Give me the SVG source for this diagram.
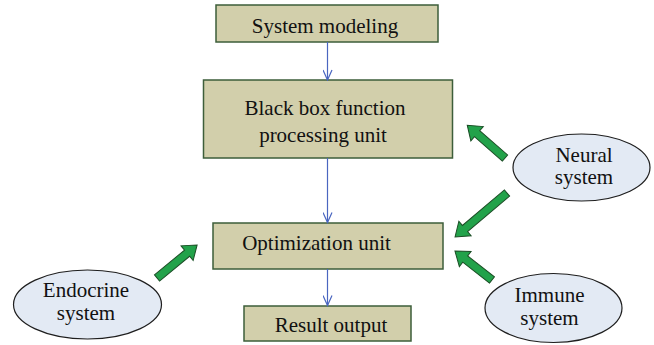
<svg xmlns="http://www.w3.org/2000/svg" width="654" height="345" viewBox="0 0 654 345">
  <style>
    .box { fill: #d2cfab; stroke: #3d5e3a; stroke-width: 1.5; }
    .oval { fill: #e3eaf4; stroke: #1e1e1e; stroke-width: 1.2; }
    .lbl { font-family: 'Liberation Serif', 'Times New Roman', serif; font-size: 21px; fill: #111; text-anchor: middle; }
    .flow { stroke: #4a66c0; stroke-width: 1.2; fill: none; marker-end: url(#vhead); }
    .push { fill: #22a24a; stroke: #1b4d25; stroke-width: 1; }
  </style>
  <defs>
    <marker id="vhead" viewBox="0 0 12 10" refX="11" refY="5" markerWidth="12" markerHeight="10" markerUnits="userSpaceOnUse" orient="auto">
      <path d="M1,0.5 L11,5 L1,9.5" fill="none" stroke="#4a66c0" stroke-width="1.2"/>
    </marker>
  </defs>

  <!-- process boxes -->
  <g id="system-modeling">
    <rect class="box" x="216" y="5" width="222" height="37"/>
    <text class="lbl" x="325" y="33">System modeling</text>
  </g>
  <g id="black-box">
    <rect class="box" x="203.5" y="80" width="249" height="78"/>
    <text class="lbl" x="325" y="115">Black box function</text>
    <text class="lbl" x="323" y="142">processing unit</text>
  </g>
  <g id="optimization">
    <rect class="box" x="213" y="223" width="230" height="46"/>
    <text class="lbl" x="316.5" y="250">Optimization unit</text>
  </g>
  <g id="result">
    <rect class="box" x="244" y="306" width="167" height="35"/>
    <text class="lbl" x="331" y="332">Result output</text>
  </g>

  <!-- biological systems -->
  <g id="neural">
    <ellipse class="oval" cx="581.5" cy="167.5" rx="68.5" ry="33.5"/>
    <text class="lbl" x="584" y="162">Neural</text>
    <text class="lbl" x="584" y="184">system</text>
  </g>
  <g id="endocrine">
    <ellipse class="oval" cx="87.5" cy="304.5" rx="74" ry="34.5"/>
    <text class="lbl" x="86" y="297">Endocrine</text>
    <text class="lbl" x="86" y="320">system</text>
  </g>
  <g id="immune">
    <ellipse class="oval" cx="553.5" cy="308" rx="68.5" ry="34.5"/>
    <text class="lbl" x="549.5" y="302">Immune</text>
    <text class="lbl" x="549.5" y="325">system</text>
  </g>

  <!-- connectors -->
  <g id="connectors">
    <line class="flow" x1="327.5" y1="42" x2="327.5" y2="80"/>
    <line class="flow" x1="327.5" y1="158" x2="327.5" y2="222.5"/>
    <line class="flow" x1="327.5" y1="269" x2="327.5" y2="305.5"/>

    <!-- block arrows: drawn along +x from tail (0) to tip, then placed -->
    <path class="push" transform="translate(505,158) rotate(221)" d="M0,-4 L37,-4 L37,-9.5 L50,0 L37,9.5 L37,4 L0,4 Z"/>
    <path class="push" transform="translate(507,193) rotate(139.8)" d="M0,-4 L55,-4 L55,-9.5 L68,0 L55,9.5 L55,4 L0,4 Z"/>
    <path class="push" transform="translate(157,278) rotate(-39.5)" d="M0,-4 L39,-4 L39,-9.5 L52,0 L39,9.5 L39,4 L0,4 Z"/>
    <path class="push" transform="translate(492,280) rotate(218)" d="M0,-4 L34,-4 L34,-9.5 L47,0 L34,9.5 L34,4 L0,4 Z"/>
  </g>
</svg>
